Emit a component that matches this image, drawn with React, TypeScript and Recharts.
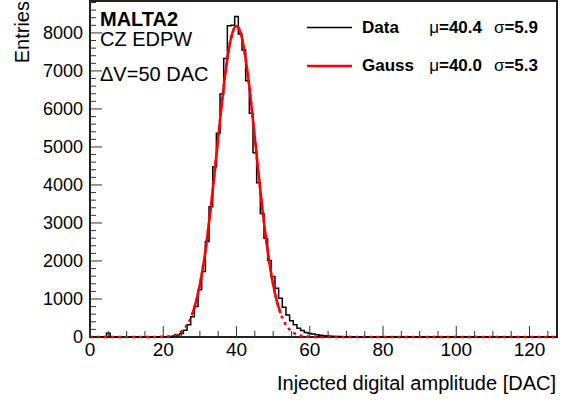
import { ComposedChart, Line, XAxis, YAxis } from "recharts";

// entries per 1-DAC bin, bins 0..74 (the rest are empty)
const binCounts = [
  0, 0, 0, 0, 0, 100, 0, 0, 0, 0,
  0, 0, 0, 0, 0, 0, 0, 0, 0, 0,
  5, 8, 12, 25, 50, 95, 180, 320, 530, 800,
  1240, 1720, 2510, 3430, 4480, 5360, 6390, 7330, 8190, 8200,
  8430, 7970, 7550, 6740, 5890, 4850, 4060, 3250, 2600, 2010,
  1590, 1280, 1020, 780, 580, 430, 320, 230, 170, 120,
  95, 80, 60, 45, 35, 28, 22, 16, 12, 9,
  6, 4, 3, 2, 1,
];
const nBins = 128;

// gaussian fit curve
const gaussX = [
  0, 10, 16, 18, 19, 20, 21, 22, 23, 24, 25, 26, 27, 28, 29, 30, 31, 32, 33, 34,
  35, 36, 37, 38, 39, 40, 41, 42, 43, 44, 45, 46, 47, 48, 49, 50, 51, 52, 53, 54,
  55, 56, 57, 58, 59, 60, 61, 62, 66, 70, 127.5,
];
const gaussY = [
  0, 0, 0, 1.5, 3, 7, 13, 26, 48, 86, 149, 250, 404, 630, 949, 1379, 1935, 2618, 3419, 4310,
  5242, 6153, 6969, 7618, 8036, 8180, 8036, 7618, 6969, 6153, 5242, 4310, 3419, 2618, 1935, 1379, 949, 630, 404, 250,
  149, 86, 48, 26, 13, 7, 3, 1.5, 0, 0, 0,
];
const fitRange = [28, 52];

const xTicks = [0, 5, 10, 15, 20, 25, 30, 35, 40, 45, 50, 55, 60, 65, 70, 75, 80, 85, 90, 95, 100, 105, 110, 115, 120, 125];
const yTicks = Array.from({ length: 45 }, (_, i) => i * 200);

const histData = [];
for (let i = 0; i < nBins; i++) {
  histData.push({ x: i === 0 ? 0 : i - 0.5, n: binCounts[i] ?? 0 });
}
histData.push({ x: nBins - 0.5, n: 0 });

const gaussData = gaussX.map((x, i) => ({ x, g: gaussY[i] }));
const fitData = gaussData.filter((d) => d.x >= fitRange[0] && d.x <= fitRange[1]);

const FONT = "'Liberation Sans', Arial, Helvetica, sans-serif";
const TICK = "#333";

// plot frame (drawn underneath the chart so the curves sit on top of it)
const W = 570;
const H = 403;
const M = { top: 1, right: 13, left: 90, bottom: 66 };

function BottomTick({ x, y, payload }: any) {
  const major = payload.value % 20 === 0;
  return (
    <g>
      <line x1={x} x2={x} y1={y} y2={y - (major ? 11 : 6)} stroke={TICK} />
      {major && (
        <text x={x} y={y + 19} textAnchor="middle" fontSize={19} fontFamily={FONT} fill="#000">
          {payload.value}
        </text>
      )}
    </g>
  );
}

function TopTick({ x, y, payload }: any) {
  const major = payload.value % 20 === 0;
  return <line x1={x} x2={x} y1={y} y2={y + (major ? 11 : 6)} stroke={TICK} />;
}

function LeftTick({ x, y, payload }: any) {
  const major = payload.value % 1000 === 0;
  return (
    <g>
      <line x1={x} x2={x + (major ? 12 : 6)} y1={y} y2={y} stroke={TICK} />
      {major && (
        <text x={x - 7} y={y} dy="0.36em" textAnchor="end" fontSize={18} fontFamily={FONT} fill="#000">
          {payload.value}
        </text>
      )}
    </g>
  );
}

function RightTick({ x, y, payload }: any) {
  const major = payload.value % 1000 === 0;
  return <line x1={x} x2={x - (major ? 12 : 6)} y1={y} y2={y} stroke={TICK} />;
}

export default function App() {
  return (
    <div style={{ position: "absolute", left: 0, top: 0, width: W, height: H, background: "#fff" }}>
      <svg width={W} height={H} style={{ position: "absolute", left: 0, top: 0 }}>
        <rect x={M.left} y={M.top} width={W - M.left - M.right} height={H - M.top - M.bottom}
          fill="none" stroke="#222" strokeWidth={2} />
      </svg>
      <div style={{ position: "absolute", left: 0, top: 0 }}>
        <ComposedChart width={W} height={H} margin={{ top: M.top, right: M.right, bottom: 0, left: 0 }}>
          <XAxis xAxisId="b" dataKey="x" type="number" domain={[0, 127.5]} ticks={xTicks} interval={0}
            height={M.bottom} tickSize={0} tickMargin={0} tickLine={false} tick={<BottomTick />} axisLine={false} />
          <XAxis xAxisId="t" dataKey="x" orientation="top" type="number" domain={[0, 127.5]} ticks={xTicks} interval={0}
            height={0} tickSize={0} tickMargin={0} tickLine={false} tick={<TopTick />} axisLine={false} />
          <YAxis yAxisId="l" type="number" domain={[0, 8840]} ticks={yTicks} interval={0}
            width={M.left} tickSize={0} tickMargin={0} tickLine={false} tick={<LeftTick />} axisLine={false} />
          <YAxis yAxisId="r" orientation="right" type="number" domain={[0, 8840]} ticks={yTicks} interval={0}
            width={0} tickSize={0} tickMargin={0} tickLine={false} tick={<RightTick />} axisLine={false} />
          <Line xAxisId="b" yAxisId="l" data={histData} dataKey="n" type="stepAfter" stroke="#000"
            strokeWidth={1.5} dot={false} isAnimationActive={false} />
          <Line xAxisId="b" yAxisId="l" data={gaussData} dataKey="g" type="monotone" stroke="#ff0000"
            strokeWidth={2.5} strokeDasharray="3 4" dot={false} isAnimationActive={false} />
          <Line xAxisId="b" yAxisId="l" data={fitData} dataKey="g" type="monotone" stroke="#ff0000"
            strokeWidth={2.5} dot={false} isAnimationActive={false} />
        </ComposedChart>
      </div>
      <svg width={W} height={H} style={{ position: "absolute", left: 0, top: 0, pointerEvents: "none" }}
        fontFamily={FONT} fill="#000">
        <text transform="rotate(-90)" x={-1} y={29} textAnchor="end" fontSize={20}>Entries</text>
        <text x={556} y={390} textAnchor="end" fontSize={20}>Injected digital amplitude [DAC]</text>
        <text x={100} y={26} fontSize={20} fontWeight="bold">MALTA2</text>
        <text x={100} y={46} fontSize={20}>CZ EDPW</text>
        <text x={100} y={81} fontSize={20}>ΔV=50 DAC</text>

        <line x1={307} x2={352} y1={27.5} y2={27.5} stroke="#000" strokeWidth={1.5} />
        <text x={362} y={33} fontSize={17} fontWeight="bold">Data</text>
        <text x={482} y={33} fontSize={17} fontWeight="bold" textAnchor="end">
          <tspan fontWeight="normal">μ</tspan>=40.4
        </text>
        <text x={538} y={33} fontSize={17} fontWeight="bold" textAnchor="end">
          <tspan fontWeight="normal">σ</tspan>=5.9
        </text>

        <line x1={307} x2={352} y1={66} y2={66} stroke="#ff0000" strokeWidth={2.5} />
        <text x={362} y={71} fontSize={17} fontWeight="bold">Gauss</text>
        <text x={482} y={71} fontSize={17} fontWeight="bold" textAnchor="end">
          <tspan fontWeight="normal">μ</tspan>=40.0
        </text>
        <text x={538} y={71} fontSize={17} fontWeight="bold" textAnchor="end">
          <tspan fontWeight="normal">σ</tspan>=5.3
        </text>
      </svg>
    </div>
  );
}
